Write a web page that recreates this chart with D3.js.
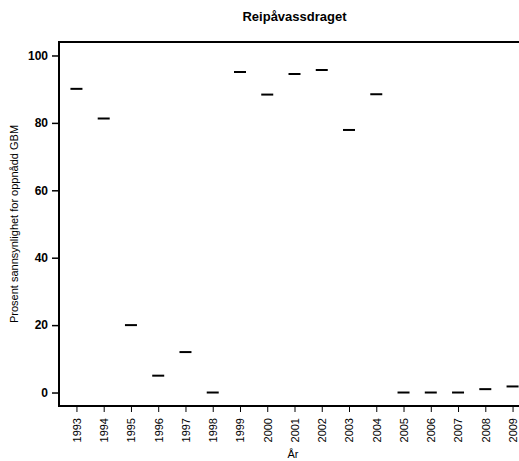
<!DOCTYPE html>
<html>
<head>
<meta charset="utf-8">
<script src="https://cdn.jsdelivr.net/npm/d3@7"></script>
<style>
  body { margin: 0; background: #fff; }
  svg { display: block; font-family: "Liberation Sans", Arial, sans-serif; }
</style>
</head>
<body>
<div id="chart"></div>
<script>
const years = [1993, 1994, 1995, 1996, 1997, 1998, 1999, 2000, 2001, 2002, 2003, 2004, 2005, 2006, 2007, 2008, 2009];
const prob = [90.1, 81.3, 20, 5, 12, 0, 95.1, 88.4, 94.5, 95.7, 77.9, 88.5, 0, 0, 0, 1, 1.8];
const yTicks = [0, 20, 40, 60, 80, 100];

const width = 519, height = 461;
const plotLeft = 59, plotTop = 42, plotBottom = 406, plotRight = 530;

const svg = d3.select("#chart").append("svg")
    .attr("width", width)
    .attr("height", height);

// R style: 4% padding on both sides
const x = d3.scaleLinear().domain([1992.36, 2009.64]).range([plotLeft, plotRight]);
const y = d3.scaleLinear().domain([-4, 104]).range([plotBottom, plotTop]);

// box (right edge runs off the page)
svg.append("rect")
    .attr("x", plotLeft).attr("y", plotTop)
    .attr("width", plotRight - plotLeft).attr("height", plotBottom - plotTop)
    .attr("fill", "none").attr("stroke", "#000").attr("stroke-width", 2);

// y axis
const yAxis = svg.append("g")
    .attr("transform", `translate(${plotLeft},0)`)
    .call(d3.axisLeft(y).tickValues(yTicks).tickSize(7).tickPadding(4));
yAxis.select(".domain").remove();
yAxis.selectAll("line").attr("stroke-width", 1.5);
yAxis.selectAll("text")
    .attr("font-size", 12).attr("font-weight", "bold")
    .attr("font-family", "Liberation Sans, Arial, sans-serif");

// x axis
const xAxis = svg.append("g")
    .attr("transform", `translate(0,${plotBottom})`)
    .call(d3.axisBottom(x).tickValues(years).tickFormat(d3.format("d")).tickSize(6));
xAxis.select(".domain").remove();
xAxis.selectAll("line").attr("stroke-width", 1);
xAxis.selectAll("text")
    .attr("font-size", 11)
    .attr("font-family", "Liberation Sans, Arial, sans-serif")
    .attr("transform", "rotate(-90)")
    .attr("text-anchor", "end")
    .attr("x", -12)
    .attr("y", 0)
    .attr("dy", "0.35em");

// data marks: short horizontal dashes
svg.append("g")
    .selectAll("line")
    .data(years)
    .enter().append("line")
    .attr("x1", d => x(d) - 6)
    .attr("x2", d => x(d) + 6)
    .attr("y1", (d, i) => y(prob[i]))
    .attr("y2", (d, i) => y(prob[i]))
    .attr("stroke", "#000")
    .attr("stroke-width", 2);

// title
svg.append("text")
    .attr("x", (plotLeft + plotRight) / 2).attr("y", 21)
    .attr("text-anchor", "middle")
    .attr("font-size", 13).attr("font-weight", "bold")
    .text("Reipåvassdraget");

// axis labels
svg.append("text")
    .attr("transform", `translate(18,${(plotTop + plotBottom) / 2}) rotate(-90)`)
    .attr("text-anchor", "middle")
    .attr("font-size", 11)
    .text("Prosent sannsynlighet for oppnådd GBM");

svg.append("text")
    .attr("x", 293).attr("y", 458)
    .attr("text-anchor", "middle")
    .attr("font-size", 11)
    .text("År");
</script>
</body>
</html>
